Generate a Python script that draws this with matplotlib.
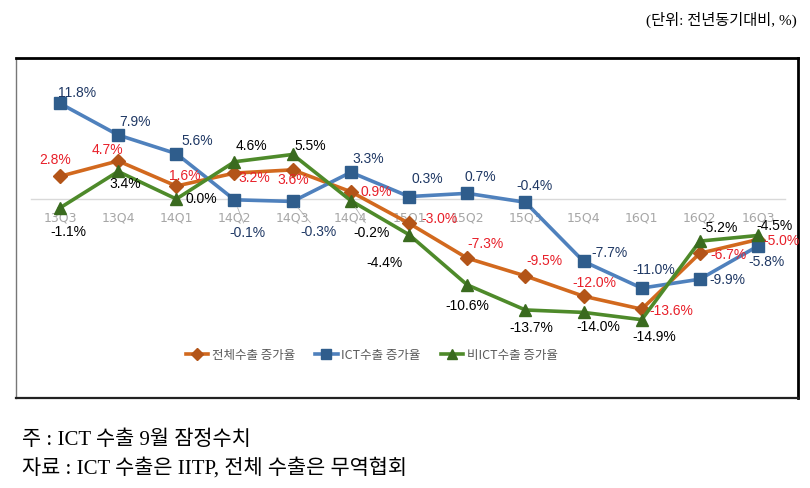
import matplotlib.pyplot as plt
from matplotlib.lines import Line2D

# categories and series (전년동기대비, %)
quarters = ['13Q3', '13Q4', '14Q1', '14Q2', '14Q3', '14Q4', '15Q1',
            '15Q2', '15Q3', '15Q4', '16Q1', '16Q2', '16Q3']
total = [2.8, 4.7, 1.6, 3.2, 3.6, 0.9, -3.0, -7.3, -9.5, -12.0, -13.6, -6.7, -5.0]
ict = [11.8, 7.9, 5.6, -0.1, -0.3, 3.3, 0.3, 0.7, -0.4, -7.7, -11.0, -9.9, -5.8]
non_ict = [-1.1, 3.4, 0.0, 4.6, 5.5, -0.2, -4.4, -10.6, -13.7, -14.0, -14.9, -5.2, -4.5]
series_names = ['전체수출 증가율', 'ICT수출 증가율', '비ICT수출 증가율']

# label offsets in pixels (dx, dy) from each marker
total_off = [(-5, 16), (-11, 11), (8, 10), (20, -5), (1, -10), (25, 0), (30, 4),
             (18, 14), (19, 15), (11, 13), (30, -2), (29, -2), (23, -1)]
ict_off = [(17, 10), (17, 13), (21, 13), (13, -33), (26, -31), (17, 13), (18, 18),
           (13, 16), (9, 16), (26, 8), (12, 18), (28, -1), (8, -16)]
non_off = [(8, -24), (7, -13), (25, 0), (17, 16), (18, 8), (21, -32), (-25, -28),
           (0, -21), (6, -18), (15, -15), (13, -17), (20, 13), (16, 9)]
leader = {('ict', 3), ('ict', 4), ('non', 5)}

kr = ['Noto Sans CJK KR', 'DejaVu Sans']
num_font = ['Liberation Sans', 'DejaVu Sans']
serif_kr = ['Liberation Serif', 'Noto Sans CJK KR']

fig = plt.figure(figsize=(8.1, 4.88), dpi=100)
ax = fig.add_axes([16 / 810, 1 - 398 / 488, 782 / 810, 340 / 488])
ax.set_xlim(-0.756, 12.687)
ax.set_ylim(-24.57, 17.41)
ax.set_xticks([])
ax.set_yticks([])

for side, lw, col in [('top', 2.0, 'black'), ('right', 2.0, 'black'),
                      ('bottom', 1.6, '#222222'), ('left', 1.0, '#777777')]:
    ax.spines[side].set_linewidth(lw)
    ax.spines[side].set_color(col)

x = list(range(len(quarters)))

# zero line and category labels
ax.plot([-0.5, 12.46], [0, 0], color='#d9d9d9', lw=1.0, zorder=1)
for i, q in enumerate(quarters):
    ax.text(i, -2.35, q, ha='center', va='center', fontsize=9,
            color='#a6a6a6', zorder=1)

styles = [
    (total, '#d2691e', '#b35418', 'D', 7.5, '#e8202a', total_off, 'tot'),
    (ict, '#4f81bd', '#2f5d8c', 's', 8.5, '#1f3864', ict_off, 'ict'),
    (non_ict, '#4e8a2a', '#3a6b1f', '^', 9, 'black', non_off, 'non'),
]
for k in [1, 2, 0]:
    vals, lc, mc, mk, ms, tc, offs, key = styles[k]
    ax.plot(x, vals, color=lc, lw=2.6, marker=mk, markersize=ms,
            markerfacecolor=mc, markeredgecolor=mc, zorder=3 + k)

for vals, lc, mc, mk, ms, tc, offs, key in styles:
    for i, v in enumerate(vals):
        dx, dy = offs[i]
        ap = None
        if (key, i) in leader:
            ap = dict(arrowstyle='-', color='#b0b0b0', lw=0.6, shrinkA=0, shrinkB=6)
        ax.annotate(f'{v:.1f}%', (i, v), xytext=(dx, dy), textcoords='offset pixels',
                    ha='center', va='center', fontsize=10, color=tc,
                    family=num_font, arrowprops=ap, zorder=10)

handles = [Line2D([], [], color=s[1], lw=2.6, marker=s[3], markersize=s[4] * 0.8,
                  markerfacecolor=s[2], markeredgecolor=s[2]) for s in styles]
leg = ax.legend(handles, series_names, loc='center', bbox_to_anchor=(0.455, 0.126),
                ncol=3, frameon=False, handlelength=1.8, columnspacing=1.6,
                handletextpad=0.3, prop={'family': kr, 'size': 9})
for t in leg.get_texts():
    t.set_color('#595959')

fig.text(797 / 810, 1 - 20 / 488, '(단위: 전년동기대비, %)', ha='right', va='center',
         fontsize=11, family=serif_kr)
fig.text(22 / 810, 1 - 440 / 488, '주 : ICT 수출 9월 잠정수치', ha='left', va='center',
         fontsize=15, family=serif_kr)
fig.text(22 / 810, 1 - 468 / 488, '자료 : ICT 수출은 IITP, 전체 수출은 무역협회',
         ha='left', va='center', fontsize=15, family=serif_kr)

fig.savefig('out.png', dpi=100)
